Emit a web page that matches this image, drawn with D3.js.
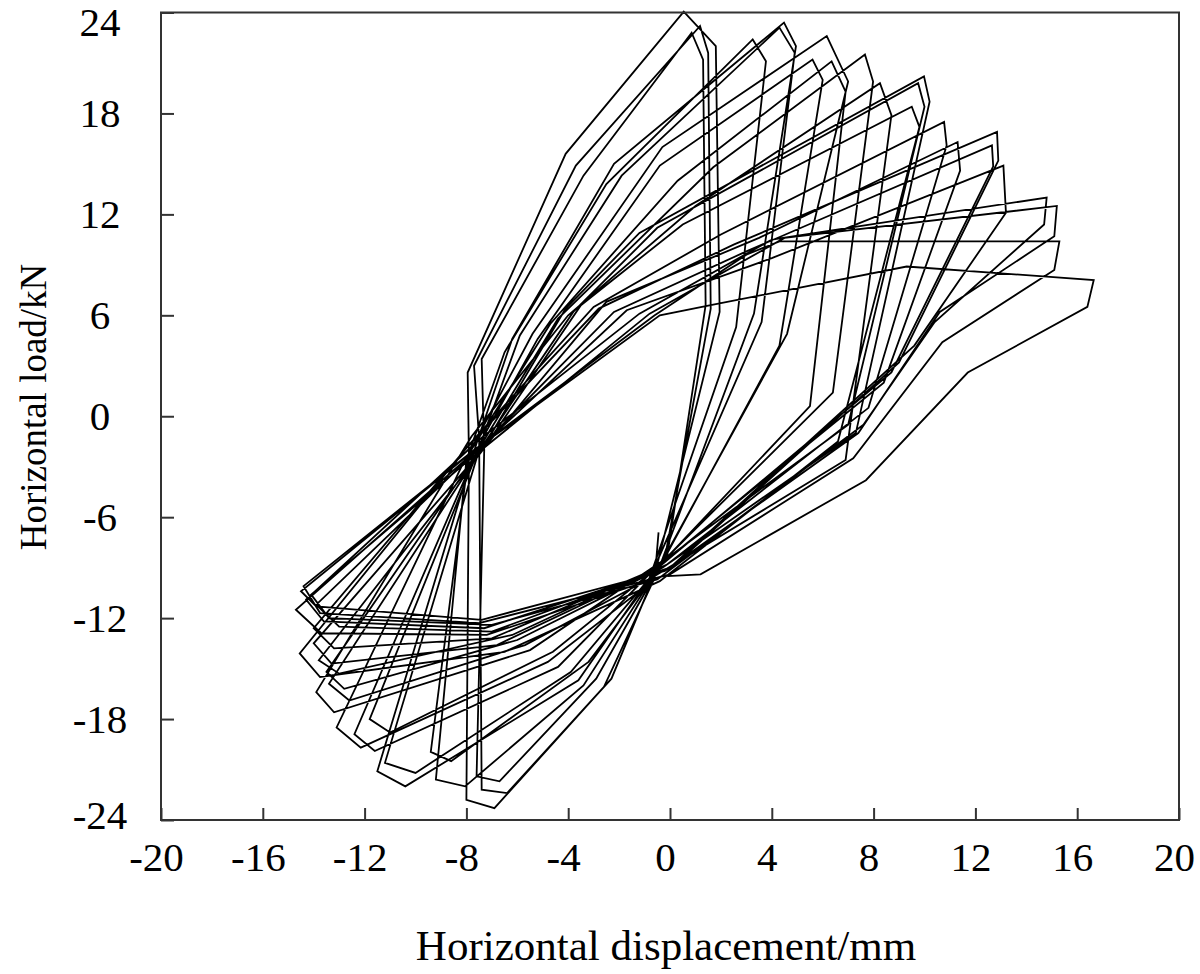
<!DOCTYPE html>
<html lang="en">
<head>
<meta charset="UTF-8">
<title>hysteresis</title>
<script src="https://d3js.org/d3.v7.min.js"></script>
<style>
  body { margin: 0; background: #fff; }
  text { font-family: "Liberation Serif", "Times New Roman", serif; fill: #000; }
</style>
</head>
<body>
<svg id="chart" width="1200" height="974"></svg>
<script>
var xTicks = [-20, -16, -12, -8, -4, 0, 4, 8, 12, 16, 20];
var yTicks = [-24, -18, -12, -6, 0, 6, 12, 18, 24];
var xTitle = "Horizontal displacement/mm";
var yTitle = "Horizontal load/kN";

// [displacement mm, load kN], one loop per row
var loops = [
  [[-0.45, -6.9], [-0.6, -9.6]],
  [[-2.6, -16.1], [-6.9, -23.3], [-8.0, -22.8], [-7.9, -2.4], [-7.95, 2.6], [-4.1, 15.6], [0.54, 24.05], [1.8, 22.0], [1.95, 6.2], [-0.6, -9.4]],
  [[-2.3, -15.6], [-6.4, -22.4], [-7.4, -22.2], [-7.5, -1.3], [-7.7, 3.0], [-3.7, 14.9], [1.18, 23.2], [1.5, 21.6], [1.6, 6.4], [-0.2, -8.4]],
  [[-2.9, -15.6], [-6.7, -21.7], [-7.6, -21.4], [-7.3, -2.0], [-7.4, 3.4], [-3.4, 14.3], [0.85, 22.8], [1.3, 21.2], [1.4, 6.6], [-0.1, -8.2]],
  [[-3.4, -16.0], [-8.05, -22.0], [-9.2, -21.6], [-8.0, -2.6], [-6.5, 3.8], [-2.5, 13.8], [3.25, 22.4], [3.77, 21.1], [2.6, 5.3], [-0.8, -9.6]],
  [[-3.6, -15.7], [-10.4, -22.0], [-11.5, -21.1], [-7.6, -1.6], [-6.2, 4.6], [-2.2, 15.0], [4.48, 23.4], [4.95, 22.0], [3.3, 6.1], [-0.4, -8.9]],
  [[-3.9, -15.2], [-10.0, -21.2], [-11.2, -20.6], [-7.3, -1.0], [-5.9, 4.8], [-1.9, 14.3], [4.3, 23.1], [4.9, 21.6], [3.6, 5.6], [-0.9, -10.0]],
  [[-3.2, -14.6], [-8.6, -20.5], [-9.4, -19.95], [-7.9, -2.2], [-5.4, 4.9], [-0.3, 16.0], [6.16, 22.6], [7.0, 19.9], [4.6, 4.9], [-0.3, -8.6]],
  [[-4.4, -14.9], [-11.6, -19.9], [-12.4, -18.9], [-7.4, -1.4], [-5.2, 4.6], [-0.4, 14.9], [5.6, 21.2], [6.0, 20.0], [4.3, 4.2], [-0.7, -9.8]],
  [[-4.8, -14.6], [-12.15, -19.7], [-13.1, -18.5], [-8.1, -2.7], [-4.7, 5.5], [0.3, 14.0], [6.35, 21.1], [6.9, 19.3], [5.5, 0.6], [-0.5, -9.0]],
  [[-4.6, -14.0], [-11.0, -18.8], [-11.8, -18.0], [-7.5, -1.9], [-4.4, 5.8], [1.7, 14.8], [7.66, 21.5], [7.98, 19.9], [6.4, 1.4], [-0.2, -8.5]],
  [[-5.5, -13.9], [-13.2, -17.6], [-13.9, -16.4], [-7.8, -1.2], [-4.0, 6.0], [1.0, 12.5], [8.25, 19.8], [8.7, 17.9], [6.9, -2.6], [-0.6, -9.5]],
  [[-5.7, -13.6], [-12.6, -16.9], [-13.4, -15.9], [-7.2, -1.5], [-4.1, 6.4], [-1.2, 10.9], [9.98, 20.2], [10.2, 18.7], [7.3, -1.0], [-0.3, -9.0]],
  [[-6.0, -13.3], [-12.8, -16.2], [-13.5, -15.2], [-7.7, -2.5], [-3.8, 6.2], [-0.5, 11.2], [9.75, 19.8], [10.0, 18.4], [7.0, -0.5], [-0.8, -9.2]],
  [[-6.2, -13.0], [-13.0, -15.3], [-13.8, -14.5], [-7.4, -2.1], [-3.5, 6.6], [0.5, 11.4], [9.5, 18.4], [9.8, 17.2], [6.6, -1.5], [-0.4, -9.8]],
  [[-6.5, -14.0], [-13.75, -15.5], [-14.55, -14.1], [-7.9, -1.7], [-3.0, 6.5], [2.0, 10.8], [10.77, 17.5], [10.87, 16.1], [7.8, 0.5], [-0.1, -8.8]],
  [[-6.8, -13.6], [-13.3, -14.7], [-14.0, -13.5], [-7.6, -2.4], [-2.5, 6.8], [3.5, 10.6], [11.3, 16.3], [11.4, 14.6], [8.4, 2.0], [-0.6, -9.1]],
  [[-7.0, -13.2], [-13.2, -13.8], [-14.0, -12.6], [-8.0, -1.9], [-2.8, 6.4], [2.5, 10.2], [12.85, 16.9], [12.9, 15.2], [9.0, 3.2], [-0.3, -9.5]],
  [[-7.2, -13.0], [-13.7, -12.9], [-14.7, -11.5], [-7.3, -1.6], [-2.2, 6.2], [3.0, 9.8], [12.65, 16.1], [12.7, 14.85], [8.7, 2.6], [-0.7, -9.3]],
  [[-7.0, -12.8], [-13.0, -12.5], [-13.9, -11.2], [-7.7, -2.2], [-1.7, 6.3], [4.0, 9.4], [13.1, 14.9], [13.2, 12.1], [9.6, 4.2], [0.0, -9.0]],
  [[-7.3, -12.6], [-13.6, -12.2], [-14.3, -10.9], [-7.5, -1.4], [-1.2, 6.1], [4.0, 10.5], [14.8, 13.0], [14.7, 11.4], [10.4, 5.6], [7.6, -0.5], [-0.5, -9.7]],
  [[-7.0, -12.4], [-13.4, -12.0], [-14.1, -10.6], [-7.9, -2.6], [-0.8, 6.1], [4.5, 10.6], [15.2, 12.5], [15.1, 10.7], [10.6, 6.2], [7.4, -1.0], [-0.2, -9.2]],
  [[-7.4, -12.1], [-13.9, -11.3], [-14.5, -10.4], [-7.6, -1.9], [-0.6, 6.0], [3.0, 9.6], [4.3, 10.4], [15.3, 10.4], [15.1, 8.7], [10.7, 4.4], [7.2, -2.5], [0.0, -9.4]],
  [[-7.5, -12.3], [-13.75, -11.7], [-14.4, -10.1], [-7.7, -2.0], [-6.2, -0.4], [-0.4, 6.0], [1.6, 6.6], [9.3, 8.9], [16.65, 8.1], [16.4, 6.5], [11.7, 2.6], [7.7, -3.8], [1.2, -9.4], [-0.1, -9.5]]
];

var svg = d3.select("#chart");
var x = d3.scaleLinear().domain([-20, 20]).range([161, 1179]);
var y = d3.scaleLinear().domain([-24, 24]).range([820, 12.5]);

var line = d3.line()
  .x(function (d) { return x(d[0]); })
  .y(function (d) { return y(d[1]); });

svg.append("path")
  .datum(loops.flat())
  .attr("d", line)
  .attr("fill", "none")
  .attr("stroke", "#000")
  .attr("stroke-width", 1.8)
  .attr("stroke-linejoin", "miter");

// frame
svg.append("rect")
  .attr("x", x(-20)).attr("y", y(24))
  .attr("width", x(20) - x(-20)).attr("height", y(-24) - y(24))
  .attr("fill", "none").attr("stroke", "#333").attr("stroke-width", 2);

var xAxis = svg.append("g")
  .attr("transform", "translate(0," + y(-24) + ")")
  .call(d3.axisBottom(x).tickValues(xTicks).tickSize(-12).tickSizeOuter(0)
    .tickFormat(function (d) { return String(d); }));
xAxis.select(".domain").remove();
xAxis.selectAll("line").attr("stroke", "#333").attr("stroke-width", 2);
xAxis.selectAll("text")
  .attr("y", 51).attr("dy", 0).attr("dx", -5)
  .attr("font-family", null).attr("font-size", null)
  .style("font-size", "41px");

var yAxis = svg.append("g")
  .attr("transform", "translate(" + x(-20) + ",0)")
  .call(d3.axisLeft(y).tickValues(yTicks).tickSize(-13).tickSizeOuter(0)
    .tickFormat(function (d) { return String(d); }));
yAxis.select(".domain").remove();
yAxis.selectAll("line").attr("stroke", "#333").attr("stroke-width", 2);
yAxis.selectAll("text")
  .attr("x", 100 - x(-20)).attr("text-anchor", "middle")
  .attr("dy", function (d) { return d === 24 ? "0.55em" : d === -24 ? "0.2em" : "0.33em"; })
  .attr("font-family", null).attr("font-size", null)
  .style("font-size", "41px");

svg.append("text")
  .attr("x", 666).attr("y", 960)
  .attr("text-anchor", "middle")
  .style("font-size", "43px")
  .text(xTitle);

svg.append("text")
  .attr("transform", "translate(46,407) rotate(-90)")
  .attr("text-anchor", "middle")
  .style("font-size", "37px")
  .text(yTitle);
</script>
</body>
</html>
